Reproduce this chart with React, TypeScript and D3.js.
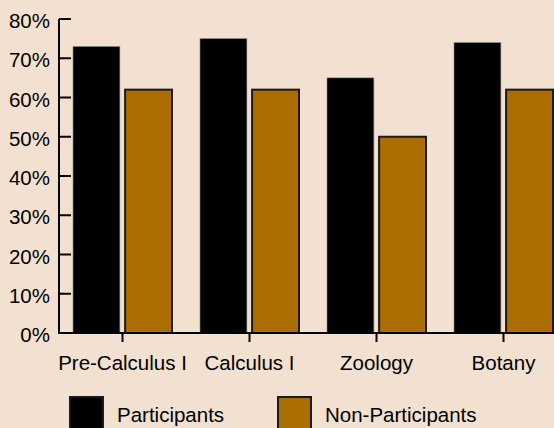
import * as d3 from 'd3';
import React from 'react';

const categories = ["Pre-Calculus I", "Calculus I", "Zoology", "Botany"];
const series = ["Participants", "Non-Participants"];
const participants = [73, 75, 65, 74];
const nonParticipants = [62, 62, 50, 62];
const yTicks = [0, 10, 20, 30, 40, 50, 60, 70, 80];

const width = 554;
const height = 428;
const font = "'Liberation Sans', Arial, sans-serif";
const fontSize = 20.5;

const colors: Record<string, string> = {
	"Participants": "#000000",
	"Non-Participants": "#ad6e00",
};

export default function App() {
	const x = d3.scaleBand<string>()
		.domain(categories)
		.range([59, 59 + 4 * 127]);

	const xInner = d3.scaleBand<string>()
		.domain(series)
		.range([14, 113])
		.paddingInner(0.1);

	const y = d3.scaleLinear()
		.domain([0, 80])
		.range([333, 19]);

	const values: Record<string, number[]> = {
		"Participants": participants,
		"Non-Participants": nonParticipants,
	};

	return (
		<svg width={width} height={height} style={{ position: "absolute", left: 0, top: 0 }}>
			<rect x={0} y={0} width={width} height={height} fill="#f2e0d0" />

			{categories.map((c, i) => series.map(s => (
				<rect
					key={c + s}
					x={(x(c) as number) + (xInner(s) as number)}
					y={y(values[s][i])}
					width={xInner.bandwidth()}
					height={y(0) - y(values[s][i])}
					fill={colors[s]}
					stroke={s === "Participants" ? "#8a8a8a" : "#1a1a1a"}
					strokeWidth={s === "Participants" ? 0.6 : 2}
				/>
			)))}

			{/* y axis */}
			<line x1={59} x2={59} y1={y(80)} y2={y(0)} stroke="#000" strokeWidth={2} />
			{yTicks.map(t => (
				<g key={t}>
					<line x1={59} x2={71} y1={y(t)} y2={y(t)} stroke="#000" strokeWidth={2} />
					<text x={50} y={y(t)} dy="0.44em" textAnchor="end"
						style={{ fontFamily: font, fontSize, fill: "#000" }}>{t}%</text>
				</g>
			))}

			{/* x axis */}
			<line x1={58} x2={width} y1={y(0)} y2={y(0)} stroke="#000" strokeWidth={2} />
			{categories.map(c => {
				const cx = (x(c) as number) + x.bandwidth() / 2;
				return (
					<g key={c}>
						<line x1={cx} x2={cx} y1={y(0)} y2={y(0) + 9} stroke="#000" strokeWidth={2} />
						<text x={cx} y={369.5} textAnchor="middle"
							style={{ fontFamily: font, fontSize, fill: "#000" }}>{c}</text>
					</g>
				);
			})}

			{/* legend */}
			{series.map((s, i) => (
				<g key={s} transform={`translate(${i === 0 ? 70 : 278},397)`}>
					<rect x={0} y={0} width={33} height={40} fill={colors[s]} stroke="#1a1a1a" strokeWidth={2} />
					<text x={47} y={25}
						style={{ fontFamily: font, fontSize, fill: "#000" }}>{s}</text>
				</g>
			))}
		</svg>
	);
}
